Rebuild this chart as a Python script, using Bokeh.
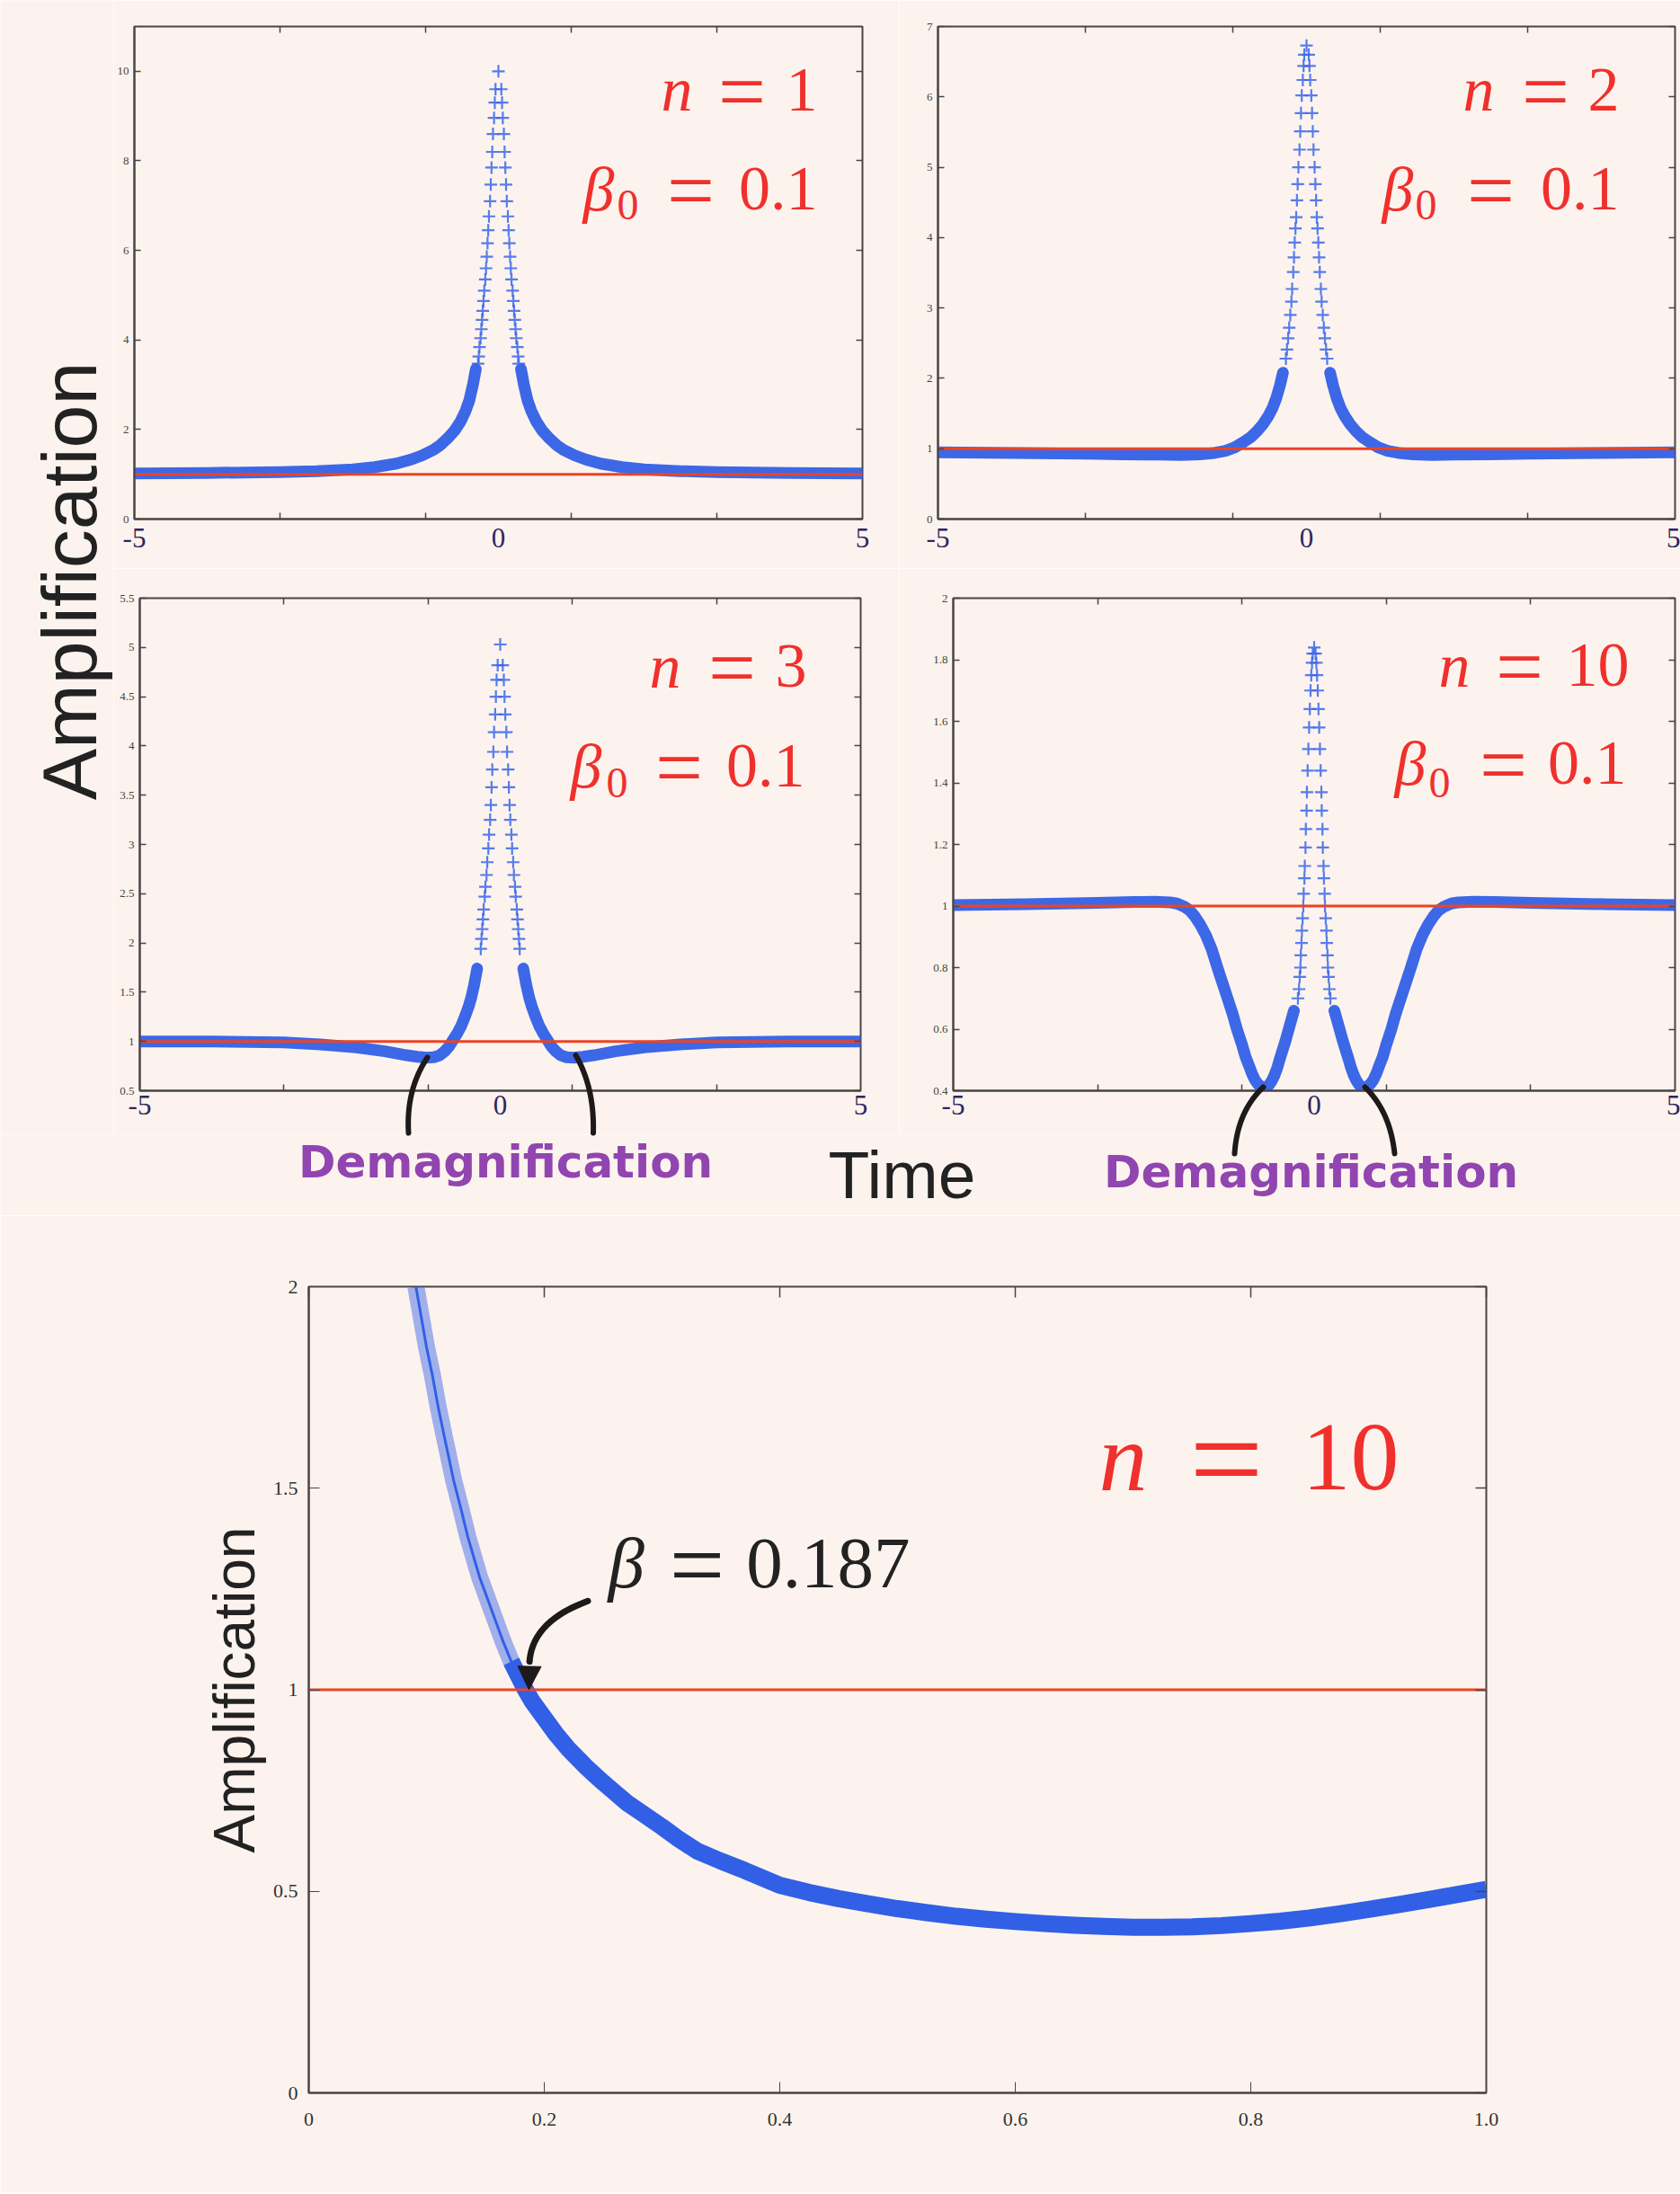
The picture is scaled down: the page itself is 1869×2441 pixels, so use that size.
import numpy as np
from bokeh.plotting import figure
from bokeh.layouts import row, column
from bokeh.models import (Range1d, FixedTicker, LinearAxis, Label, PolyAnnotation, Arrow,
                          NormalHead, CustomLabelingPolicy, GridBox)
from bokeh.embed import file_html
from bokeh.resources import INLINE

# ---------------- data ----------------
time_range = [-5.0, 5.0]
unit_level = [1.0, 1.0]
time_ticks = [-5, 0, 5]
time_tick_labels = ["-5", "0", "5"]
time_minor_ticks = [-3, -1, 1, 3]

# n = 1
n1_y_ticks = [0, 2, 4, 6, 8, 10]
n1_y_labels = ["0", "2", "4", "6", "8", "10"]
n1_band_left_t = [-5.0, -4.0, -3.0, -2.5, -2.0, -1.7, -1.4, -1.2, -1.05, -0.9, -0.8, -0.7, -0.6, -0.52, -0.45, -0.4, -0.35, -0.31]
n1_band_left_a = [1.02, 1.03, 1.05, 1.07, 1.11, 1.16, 1.24, 1.33, 1.42, 1.54, 1.65, 1.80, 1.98, 2.18, 2.42, 2.65, 3.00, 3.35]
n1_band_right_t = [0.31, 0.35, 0.4, 0.45, 0.52, 0.6, 0.7, 0.8, 0.9, 1.05, 1.2, 1.4, 1.7, 2.0, 2.5, 3.0, 4.0, 5.0]
n1_band_right_a = [3.35, 3.00, 2.65, 2.42, 2.18, 1.98, 1.80, 1.65, 1.54, 1.42, 1.33, 1.24, 1.16, 1.11, 1.07, 1.05, 1.03, 1.02]
n1_peak_t = [-0.28, -0.27, -0.26, -0.245, -0.235, -0.225, -0.215, -0.205, -0.195, -0.18, -0.17, -0.16,
             -0.15, -0.14, -0.13, -0.115, -0.105, -0.095, -0.085, -0.075, -0.06, -0.05, -0.04, 0.0,
             0.04, 0.05, 0.06, 0.075, 0.085, 0.095, 0.105, 0.115, 0.13, 0.14, 0.15, 0.16, 0.17, 0.18,
             0.195, 0.205, 0.215, 0.225, 0.235, 0.245, 0.26, 0.27, 0.28]
n1_peak_a = [3.47, 3.63, 3.84, 4.04, 4.24, 4.45, 4.65, 4.87, 5.10, 5.35, 5.60, 5.86,
             6.16, 6.45, 6.76, 7.10, 7.47, 7.85, 8.20, 8.60, 8.96, 9.30, 9.60, 10.0,
             9.60, 9.30, 8.96, 8.60, 8.20, 7.85, 7.47, 7.10, 6.76, 6.45, 6.16, 5.86, 5.60, 5.35,
             5.10, 4.87, 4.65, 4.45, 4.24, 4.04, 3.84, 3.63, 3.47]

# n = 2
n2_y_ticks = [0, 1, 2, 3, 4, 5, 6, 7]
n2_y_labels = ["0", "1", "2", "3", "4", "5", "6", "7"]
n2_band_left_t = [-5.0, -4.0, -3.0, -2.5, -2.0, -1.7, -1.45, -1.25, -1.1, -0.97, -0.86, -0.76, -0.67, -0.59, -0.52, -0.46, -0.41, -0.36, -0.32]
n2_band_left_a = [0.95, 0.94, 0.93, 0.92, 0.915, 0.91, 0.92, 0.94, 0.97, 1.02, 1.09, 1.16, 1.25, 1.35, 1.46, 1.58, 1.72, 1.90, 2.08]
n2_band_right_t = [0.32, 0.36, 0.41, 0.46, 0.52, 0.59, 0.67, 0.76, 0.86, 0.97, 1.1, 1.25, 1.45, 1.7, 2.0, 2.5, 3.0, 4.0, 5.0]
n2_band_right_a = [2.08, 1.90, 1.72, 1.58, 1.46, 1.35, 1.25, 1.16, 1.09, 1.02, 0.97, 0.94, 0.92, 0.91, 0.915, 0.92, 0.93, 0.94, 0.95]
n2_peak_t = [-0.28, -0.265, -0.25, -0.235, -0.22, -0.205, -0.195, -0.18, -0.17, -0.16, -0.15, -0.14,
             -0.13, -0.12, -0.11, -0.095, -0.085, -0.075, -0.065, -0.05, -0.04, -0.03, 0.0,
             0.03, 0.04, 0.05, 0.065, 0.075, 0.085, 0.095, 0.11, 0.12, 0.13, 0.14, 0.15, 0.16,
             0.17, 0.18, 0.195, 0.205, 0.22, 0.235, 0.25, 0.265, 0.28]
n2_peak_a = [2.28, 2.41, 2.57, 2.72, 2.90, 3.09, 3.27, 3.51, 3.72, 3.93, 4.13, 4.29,
             4.53, 4.76, 5.00, 5.25, 5.51, 5.77, 6.02, 6.24, 6.44, 6.60, 6.73,
             6.60, 6.44, 6.24, 6.02, 5.77, 5.51, 5.25, 5.00, 4.76, 4.53, 4.29, 4.13, 3.93,
             3.72, 3.51, 3.27, 3.09, 2.90, 2.72, 2.57, 2.41, 2.28]

# n = 3
n3_y_ticks = [0.5, 1.0, 1.5, 2.0, 2.5, 3.0, 3.5, 4.0, 4.5, 5.0, 5.5]
n3_y_labels = ["0.5", "1", "1.5", "2", "2.5", "3", "3.5", "4", "4.5", "5", "5.5"]
n3_band_left_t = [-5.0, -4.0, -3.0, -2.5, -2.0, -1.6, -1.3, -1.15, -1.02, -0.92, -0.84, -0.77, -0.71, -0.65, -0.59, -0.54, -0.49, -0.44, -0.4, -0.36, -0.32]
n3_band_left_a = [1.0, 1.0, 0.99, 0.97, 0.94, 0.90, 0.86, 0.845, 0.835, 0.84, 0.86, 0.90, 0.95, 1.02, 1.09, 1.16, 1.25, 1.35, 1.45, 1.58, 1.74]
n3_band_right_t = [0.32, 0.36, 0.4, 0.44, 0.49, 0.54, 0.59, 0.65, 0.71, 0.77, 0.84, 0.92, 1.02, 1.15, 1.3, 1.6, 2.0, 2.5, 3.0, 4.0, 5.0]
n3_band_right_a = [1.74, 1.58, 1.45, 1.35, 1.25, 1.16, 1.09, 1.02, 0.95, 0.90, 0.86, 0.84, 0.835, 0.845, 0.86, 0.90, 0.94, 0.97, 0.99, 1.0, 1.0]
n3_peak_t = [-0.27, -0.26, -0.25, -0.24, -0.23, -0.215, -0.205, -0.19, -0.18, -0.165, -0.155, -0.14,
             -0.13, -0.12, -0.11, -0.095, -0.085, -0.07, -0.06, -0.05, -0.035, 0.0,
             0.035, 0.05, 0.06, 0.07, 0.085, 0.095, 0.11, 0.12, 0.13, 0.14, 0.155, 0.165,
             0.18, 0.19, 0.205, 0.215, 0.23, 0.24, 0.25, 0.26, 0.27]
n3_peak_a = [1.94, 2.04, 2.14, 2.24, 2.34, 2.47, 2.57, 2.69, 2.82, 2.96, 3.10, 3.25,
             3.40, 3.58, 3.76, 3.94, 4.14, 4.32, 4.50, 4.67, 4.82, 5.03,
             4.82, 4.67, 4.50, 4.32, 4.14, 3.94, 3.76, 3.58, 3.40, 3.25, 3.10, 2.96,
             2.82, 2.69, 2.57, 2.47, 2.34, 2.24, 2.14, 2.04, 1.94]

# n = 10
n10_y_ticks = [0.4, 0.6, 0.8, 1.0, 1.2, 1.4, 1.6, 1.8, 2.0]
n10_y_labels = ["0.4", "0.6", "0.8", "1", "1.2", "1.4", "1.6", "1.8", "2"]
n10_band_left_t = [-5.0, -4.0, -3.0, -2.5, -2.2, -2.0, -1.9, -1.8, -1.72, -1.65, -1.58, -1.5, -1.42,
                   -1.34, -1.27, -1.2, -1.13, -1.07, -1.0, -0.95, -0.9, -0.86, -0.82, -0.78, -0.74,
                   -0.7, -0.66, -0.62, -0.58, -0.55, -0.51, -0.48, -0.44, -0.4, -0.37, -0.34, -0.31, -0.28]
n10_band_left_a = [1.003, 1.006, 1.01, 1.013, 1.014, 1.012, 1.008, 0.998, 0.985, 0.965, 0.94, 0.905, 0.86,
                   0.80, 0.75, 0.70, 0.65, 0.60, 0.55, 0.51, 0.48, 0.455, 0.435, 0.422, 0.414,
                   0.41, 0.412, 0.42, 0.435, 0.45, 0.475, 0.50, 0.53, 0.56, 0.585, 0.61, 0.635, 0.66]
n10_band_right_t = [0.28, 0.31, 0.34, 0.37, 0.4, 0.44, 0.48, 0.51, 0.55, 0.58, 0.62, 0.66, 0.7,
                    0.74, 0.78, 0.82, 0.86, 0.9, 0.95, 1.0, 1.07, 1.13, 1.2, 1.27, 1.34,
                    1.42, 1.5, 1.58, 1.65, 1.72, 1.8, 1.9, 2.0, 2.2, 2.5, 3.0, 4.0, 5.0]
n10_band_right_a = [0.66, 0.635, 0.61, 0.585, 0.56, 0.53, 0.50, 0.475, 0.45, 0.435, 0.42, 0.412, 0.41,
                    0.414, 0.422, 0.435, 0.455, 0.48, 0.51, 0.55, 0.60, 0.65, 0.70, 0.75, 0.80,
                    0.86, 0.905, 0.94, 0.965, 0.985, 0.998, 1.008, 1.012, 1.014, 1.013, 1.01, 1.006, 1.003]
n10_peak_t = [-0.225, -0.21, -0.2, -0.19, -0.185, -0.175, -0.17, -0.16, -0.15, -0.145, -0.135, -0.13,
              -0.12, -0.115, -0.105, -0.1, -0.09, -0.08, -0.07, -0.06, -0.05, -0.04, -0.03, -0.02, 0.0,
              0.02, 0.03, 0.04, 0.05, 0.06, 0.07, 0.08, 0.09, 0.1, 0.105, 0.115, 0.12,
              0.13, 0.135, 0.145, 0.15, 0.16, 0.17, 0.175, 0.185, 0.19, 0.2, 0.21, 0.225]
n10_peak_a = [0.70, 0.73, 0.77, 0.80, 0.84, 0.88, 0.92, 0.96, 1.00, 1.04, 1.09, 1.13,
              1.19, 1.25, 1.31, 1.37, 1.44, 1.51, 1.58, 1.64, 1.70, 1.75, 1.79, 1.82, 1.84,
              1.82, 1.79, 1.75, 1.70, 1.64, 1.58, 1.51, 1.44, 1.37, 1.31, 1.25, 1.19,
              1.13, 1.09, 1.04, 1.00, 0.96, 0.92, 0.88, 0.84, 0.80, 0.77, 0.73, 0.70]

# amplification vs source position, n = 10
beta_ticks = [0.0, 0.2, 0.4, 0.6, 0.8, 1.0]
beta_tick_labels = ["0", "0.2", "0.4", "0.6", "0.8", "1.0"]
amp_ticks = [0.0, 0.5, 1.0, 1.5, 2.0]
amp_tick_labels = ["0", "0.5", "1", "1.5", "2"]
beta_range = [0.0, 1.0]
beta = [0.091, 0.1, 0.105, 0.11, 0.115, 0.123, 0.13, 0.135, 0.14, 0.145, 0.15, 0.155, 0.16, 0.165,
        0.172, 0.178, 0.184, 0.19, 0.2, 0.21, 0.22, 0.235, 0.25, 0.26, 0.27, 0.285, 0.3, 0.315,
        0.33, 0.35, 0.37, 0.4, 0.425, 0.45, 0.475, 0.5, 0.525, 0.55, 0.575, 0.6, 0.625, 0.65,
        0.675, 0.7, 0.725, 0.75, 0.775, 0.8, 0.825, 0.85, 0.875, 0.9, 0.925, 0.95, 0.975, 1.0]
amp = [2.0, 1.85, 1.78, 1.70, 1.63, 1.52, 1.44, 1.38, 1.33, 1.28, 1.24, 1.20, 1.16, 1.12,
       1.07, 1.035, 1.0, 0.97, 0.93, 0.89, 0.855, 0.81, 0.77, 0.745, 0.72, 0.69, 0.66, 0.628,
       0.60, 0.575, 0.552, 0.515, 0.497, 0.482, 0.469, 0.457, 0.447, 0.438, 0.431, 0.425, 0.42, 0.416,
       0.413, 0.411, 0.411, 0.412, 0.415, 0.42, 0.426, 0.434, 0.444, 0.455, 0.467, 0.479, 0.492, 0.505]

# ---------------- style ----------------
BG = "#fdf3ee"
BAND = "#3160e6"
MARK = "#3a66ea"
RED_LINE = "#eb4424"
RED_TXT = "#f0302c"
PURPLE = "#9145b0"
INK = "#222222"
ARROW = "#1e1a1a"
FRAME = "#4a4444"
SERIF = "Liberation Serif"
SANS = "Liberation Sans"
BASE = 0.36   # shift from a label's anchor to its glyph baseline, in em
PAGE_W, PAGE_H = 1869, 2439
TOP_H = 1262
STRIP_H = 90
BOTTOM_H = PAGE_H - TOP_H - STRIP_H

HIDE_LABELS = "for (const i of indices) { indices.unset(i) }\nreturn indices"


def overrides(ticks, labels):
    return {float(t): s for t, s in zip(ticks, labels)}


def mirror_axis(ticker_ticks, minor, tick_in, minor_in):
    return LinearAxis(ticker=FixedTicker(ticks=ticker_ticks, minor_ticks=minor),
                      major_tick_in=tick_in, major_tick_out=0, minor_tick_in=minor_in, minor_tick_out=0,
                      major_tick_line_color=FRAME, major_tick_line_width=1.5,
                      minor_tick_line_color=FRAME, minor_tick_line_width=1.5,
                      axis_line_color=None, major_label_text_font_size="1px", major_label_standoff=0,
                      major_label_policy=CustomLabelingPolicy(code=HIDE_LABELS))


def panel(w, h, mbl, mbr, mbt, mbb, yr, yticks, ylabels, xstand):
    p = figure(width=w, height=h, x_range=Range1d(*time_range), y_range=Range1d(*yr),
               title=None, toolbar_location=None, output_backend="svg",
               min_border_left=mbl, min_border_right=mbr, min_border_top=mbt, min_border_bottom=mbb,
               background_fill_color=BG, border_fill_color=BG,
               outline_line_color=FRAME, outline_line_width=2)
    p.grid.visible = False
    xa = p.xaxis[0]
    xa.ticker = FixedTicker(ticks=time_ticks, minor_ticks=time_minor_ticks)
    xa.major_label_overrides = overrides(time_ticks, time_tick_labels)
    xa.major_tick_in = 0
    xa.major_tick_out = 0
    xa.minor_tick_in = 7
    xa.minor_tick_out = 0
    xa.minor_tick_line_color = FRAME
    xa.minor_tick_line_width = 1.5
    xa.axis_line_color = FRAME
    xa.axis_line_width = 2
    xa.major_label_standoff = xstand
    xa.major_label_text_font = SERIF
    xa.major_label_text_font_size = "31px"
    xa.major_label_text_color = "#2c2760"
    ya = p.yaxis[0]
    ya.ticker = FixedTicker(ticks=yticks)
    ya.major_label_overrides = overrides(yticks, ylabels)
    ya.major_tick_in = 7
    ya.major_tick_out = 0
    ya.major_tick_line_color = FRAME
    ya.major_tick_line_width = 1.5
    ya.axis_line_color = FRAME
    ya.axis_line_width = 2
    ya.major_label_standoff = 6
    ya.major_label_text_font = SERIF
    ya.major_label_text_font_size = "13px"
    ya.major_label_text_color = "#444444"
    p.add_layout(mirror_axis(time_ticks, time_minor_ticks, 0, 7), "above")
    p.add_layout(mirror_axis(yticks, [], 7, 0), "right")
    return p


def draw_curve(p, lt, la, rt, ra, pt, pa):
    p.line(lt, la, line_width=13, line_color=BAND, line_alpha=0.95, line_join="round", line_cap="round")
    p.line(rt, ra, line_width=13, line_color=BAND, line_alpha=0.95, line_join="round", line_cap="round")
    p.scatter(pt, pa, marker="cross", size=14, line_width=2.2, line_color=MARK, line_alpha=0.85)
    p.line(time_range, unit_level, line_width=3, line_color=RED_LINE)


def put(p, ax, ay, text, dx, dy, size, color, style="normal", align="left", font=SERIF):
    # dy: distance (px) of the glyph baseline below the anchor point
    p.add_layout(Label(x=ax, y=ay, x_offset=dx, y_offset=-(dy - BASE * size), text=text,
                       text_font=font, text_font_size=f"{size}px", text_font_style=style,
                       text_color=color, text_align=align, text_baseline="alphabetic"))


def math_eq(p, ax, ay, var, sub, val, x_var, x_sub, x_eq, x_val, dy, dy_sub, size, color):
    put(p, ax, ay, var, x_var, dy, size, color, style="italic")
    if sub:
        put(p, ax, ay, sub, x_sub, dy_sub, round(size * 0.68), color)
    put(p, ax, ay, "=", x_eq, dy + 0.14 * size, round(size * 1.35), color, align="center")
    put(p, ax, ay, val, x_val, dy, size, color, align="right")


def curve_path(p, p0, c, p2, width=6):
    s = np.linspace(0, 1, 40)
    xs = (1 - s) ** 2 * p0[0] + 2 * (1 - s) * s * c[0] + s ** 2 * p2[0]
    ys = (1 - s) ** 2 * p0[1] + 2 * (1 - s) * s * c[1] + s ** 2 * p2[1]
    xs = list(xs) + list(xs[::-1])
    ys = list(ys) + list(ys[::-1])
    p.add_layout(PolyAnnotation(xs=xs, ys=ys, fill_color=None, fill_alpha=0, line_alpha=1.0,
                                line_color=ARROW, line_width=width, line_join="round"))


# ---------------- top four panels ----------------
p1 = panel(874, 632, 23, 41, 29, 55, (0, 11), n1_y_ticks, n1_y_labels, 10)
draw_curve(p1, n1_band_left_t, n1_band_left_a, n1_band_right_t, n1_band_right_a, n1_peak_t, n1_peak_a)
math_eq(p1, 5, 11, "n", None, "1", -224, 0, -134, -50, 95.5, 0, 70, RED_TXT)
math_eq(p1, 5, 11, "β", "0", "0.1", -311, -273, -191, -50, 206, 216, 70, RED_TXT)

p2 = panel(869, 632, 43, 6, 29, 55, (0, 7), n2_y_ticks, n2_y_labels, 10)
draw_curve(p2, n2_band_left_t, n2_band_left_a, n2_band_right_t, n2_band_right_a, n2_peak_t, n2_peak_a)
math_eq(p2, 5, 7, "n", None, "2", -236, 0, -144, -62, 95.5, 0, 70, RED_TXT)
math_eq(p2, 5, 7, "β", "0", "0.1", -326, -289, -205, -62, 206, 216, 70, RED_TXT)

p3 = panel(874, 630, 29, 43, 33, 49, (0.5, 5.5), n3_y_ticks, n3_y_labels, 5)
draw_curve(p3, n3_band_left_t, n3_band_left_a, n3_band_right_t, n3_band_right_a, n3_peak_t, n3_peak_a)
math_eq(p3, 5, 5.5, "n", None, "3", -235, 0, -143, -60, 101, 0, 70, RED_TXT)
math_eq(p3, 5, 5.5, "β", "0", "0.1", -323, -283, -202, -62, 212, 223, 70, RED_TXT)

p4 = panel(869, 630, 60, 6, 33, 49, (0.4, 2.0), n10_y_ticks, n10_y_labels, 5)
draw_curve(p4, n10_band_left_t, n10_band_left_a, n10_band_right_t, n10_band_right_a, n10_peak_t, n10_peak_a)
math_eq(p4, 5, 2.0, "n", None, "10", -263, 0, -173, -51, 100, 0, 70, RED_TXT)
math_eq(p4, 5, 2.0, "β", "0", "0.1", -312, -274, -191, -54, 209, 223, 70, RED_TXT)

# shared vertical title on the left
lab = figure(width=126, height=TOP_H, x_range=Range1d(0, 126), y_range=Range1d(0, TOP_H),
             title=None, toolbar_location=None, output_backend="svg", min_border=0,
             x_axis_location=None, y_axis_location=None,
             background_fill_color=BG, border_fill_color=BG, outline_line_color=None)
lab.grid.visible = False
lab.add_layout(Label(x=107 - BASE * 86, y=TOP_H - 646, text="Amplification", angle=np.pi / 2,
                     text_align="center", text_baseline="alphabetic", text_font=SANS,
                     text_font_size="86px", text_color=INK))

# strip with the captions under the panels (pixel coordinates, y up)
strip = figure(width=PAGE_W, height=STRIP_H, x_range=Range1d(0, PAGE_W), y_range=Range1d(0, STRIP_H),
               title=None, toolbar_location=None, output_backend="svg", min_border=0,
               x_axis_location=None, y_axis_location=None,
               background_fill_color=BG, border_fill_color=BG, outline_line_color=None)
strip.grid.visible = False
for cx, base, text, font, style, size, color in [
        (562, 48, "Demagnification", "DejaVu Sans", "bold", 50, PURPLE),
        (1003, 71, "Time", SANS, "normal", 75, INK),
        (1458, 59, "Demagnification", "DejaVu Sans", "bold", 50, PURPLE)]:
    strip.add_layout(Label(x=cx, y=STRIP_H - base + BASE * size, text=text, text_align="center",
                           text_baseline="alphabetic", text_font=font, text_font_style=style,
                           text_font_size=f"{size}px", text_color=color))

# ---------------- bottom panel ----------------
p5 = figure(width=PAGE_W, height=BOTTOM_H, x_range=Range1d(*beta_range), y_range=Range1d(0, 2),
            title=None, toolbar_location=None, output_backend="svg",
            min_border_left=343, min_border_right=216, min_border_top=1431 - TOP_H - STRIP_H,
            min_border_bottom=PAGE_H - 2328,
            background_fill_color=BG, border_fill_color=BG,
            outline_line_color=FRAME, outline_line_width=2)
p5.grid.visible = False
bx = p5.xaxis[0]
bx.ticker = FixedTicker(ticks=beta_ticks)
bx.major_label_overrides = overrides(beta_ticks, beta_tick_labels)
bx.major_tick_in = 12
bx.major_tick_out = 0
bx.major_tick_line_color = FRAME
bx.axis_line_color = FRAME
bx.axis_line_width = 2
bx.major_label_standoff = 22
bx.major_label_text_font = SERIF
bx.major_label_text_font_size = "22px"
bx.major_label_text_color = "#333333"
by = p5.yaxis[0]
by.ticker = FixedTicker(ticks=amp_ticks)
by.major_label_overrides = overrides(amp_ticks, amp_tick_labels)
by.major_tick_in = 12
by.major_tick_out = 0
by.major_tick_line_color = FRAME
by.axis_line_color = FRAME
by.axis_line_width = 2
by.major_label_standoff = 12
by.major_label_text_font = SERIF
by.major_label_text_font_size = "22px"
by.major_label_text_color = "#333333"
by.axis_label = "Amplification"
by.axis_label_text_font = SANS
by.axis_label_text_font_style = "normal"
by.axis_label_text_font_size = "64px"
by.axis_label_text_color = INK
by.axis_label_standoff = 4
p5.add_layout(mirror_axis(beta_ticks, [], 12, 0), "above")
p5.add_layout(mirror_axis(amp_ticks, [], 12, 0), "right")

hi = [i for i, a in enumerate(amp) if a >= 0.98]
lo = [i for i, a in enumerate(amp) if a <= 1.1]
p5.line([beta[i] for i in hi], [amp[i] for i in hi], line_width=19, line_color=BAND, line_alpha=0.45)
p5.line(beta, amp, line_width=3, line_color=BAND)
p5.line([beta[i] for i in lo], [amp[i] for i in lo], line_width=19, line_color=BAND, line_join="round")
p5.line(beta_range, unit_level, line_width=3, line_color=RED_LINE)

math_eq(p5, 1, 2, "n", None, "10", -431, 0, -289, -97, 229, 0, 108, RED_TXT)
math_eq(p5, 1, 2, "β", None, "0.187", -977, 0, -878, -641, 337, 0, 81, INK)
curve_path(p5, (0.237, 1.22), (0.19, 1.17), (0.1875, 1.07), width=7)
p5.add_layout(Arrow(x_start=0.1875, y_start=1.07, x_end=0.187, y_end=1.0, line_alpha=0, line_width=1,
                    end=NormalHead(size=26, fill_color=ARROW, line_color=ARROW)))
p5.add_layout(Label(x=0.51, y=(2328 - (2425 - BASE * 63)) / 448.5, text="Source position",
                    text_align="center", text_baseline="alphabetic", text_font=SANS,
                    text_font_size="63px", text_color=INK))

main = column(row(lab, column(row(p1, p2), row(p3, p4))), row(strip), p5)

# transparent page-sized layer (page pixels, y downwards) for the pointer strokes
# that run from the dips, across the axes, to the "Demagnification" captions
over = figure(width=PAGE_W, height=PAGE_H, x_range=Range1d(0, PAGE_W), y_range=Range1d(PAGE_H, 0),
              title=None, toolbar_location=None, output_backend="svg", min_border=0,
              x_axis_location=None, y_axis_location=None,
              background_fill_color=None, border_fill_color=None, outline_line_color=None)
over.grid.visible = False
curve_path(over, (475, 1176), (451, 1212), (454, 1260))
curve_path(over, (640, 1173.5), (661, 1210), (659.5, 1260))
curve_path(over, (1405, 1209), (1376, 1236), (1373, 1283))
curve_path(over, (1518, 1209), (1546, 1236), (1551, 1283))

page = GridBox(children=[(main, 0, 0), (row(over), 0, 0)], spacing=0)

open("out.html", "w").write(file_html(page, INLINE))
